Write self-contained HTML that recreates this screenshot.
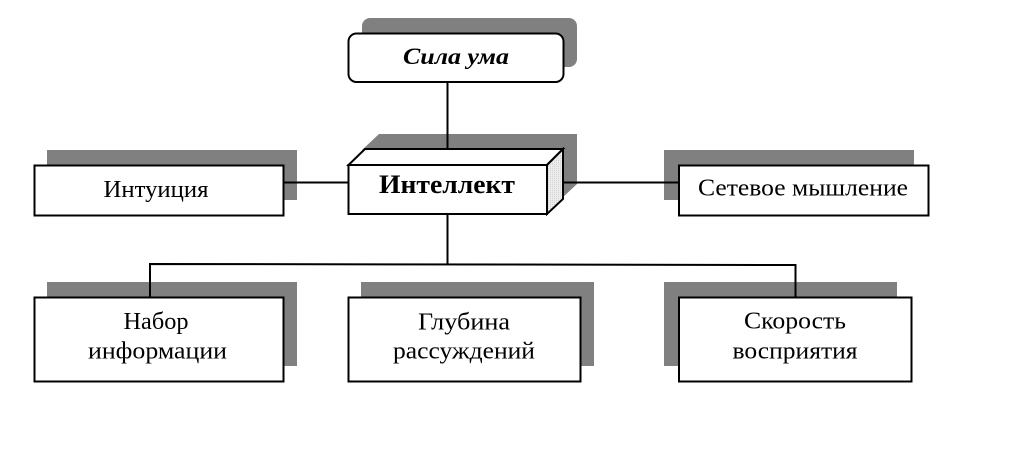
<!DOCTYPE html>
<html>
<head>
<meta charset="utf-8">
<style>
html,body{margin:0;padding:0;background:#fff;}
svg{display:block;}
text{font-family:"Liberation Serif","DejaVu Serif",serif;fill:#000;}
</style>
</head>
<body>
<svg width="1024" height="449" viewBox="0 0 1024 449" xmlns="http://www.w3.org/2000/svg">
<defs>
<pattern id="dots" width="2" height="2" patternUnits="userSpaceOnUse">
<rect width="2" height="2" fill="#ececec"/>
<rect width="1" height="1" fill="#d4d4d4"/>
</pattern>
</defs>
<rect x="0" y="0" width="1024" height="449" fill="#fff"/>

<!-- shadows -->
<rect x="362" y="18" width="215" height="49" rx="8" ry="8" fill="#808080"/>
<polygon points="362,150 379,134 577,134 577,184 561,199 362,199" fill="#808080"/>
<rect x="47" y="150" width="250" height="50" fill="#808080"/>
<rect x="664" y="150" width="250" height="50" fill="#808080"/>
<rect x="47" y="282" width="250" height="84" fill="#808080"/>
<rect x="361" y="282" width="233" height="84" fill="#808080"/>
<rect x="664" y="282" width="233" height="84" fill="#808080"/>

<!-- connectors -->
<g stroke="#000" stroke-width="2" fill="none">
<line x1="447.5" y1="82" x2="447.5" y2="150"/>
<line x1="283" y1="182.5" x2="349" y2="182.5"/>
<line x1="563" y1="182.5" x2="679" y2="182.5"/>
<line x1="447.5" y1="214" x2="447.5" y2="264"/>
<polyline points="150,297 150,264 795.5,265 795.5,297"/>
</g>

<!-- Сила ума -->
<rect x="348.5" y="33.5" width="215" height="48.5" rx="8" ry="8" fill="#fff" stroke="#000" stroke-width="2"/>
<text x="456" y="64" font-size="23.5" font-weight="bold" font-style="italic" text-anchor="middle" textLength="106" lengthAdjust="spacingAndGlyphs">Сила ума</text>

<!-- Интеллект 3D box -->
<polygon points="348.5,165 365,149 563,149 547,165" fill="#fff" stroke="#000" stroke-width="2" stroke-linejoin="miter"/>
<polygon points="547,165 563,149 563,199 547,214" fill="url(#dots)" stroke="#000" stroke-width="2"/>
<rect x="348.5" y="165" width="198.5" height="49" fill="#fff" stroke="#000" stroke-width="2"/>
<text x="447" y="193" font-size="26" font-weight="bold" text-anchor="middle" textLength="136" lengthAdjust="spacingAndGlyphs">Интеллект</text>

<!-- Интуиция -->
<rect x="34.5" y="165.5" width="249" height="50" fill="#fff" stroke="#000" stroke-width="2"/>
<text x="156" y="197" font-size="24" text-anchor="middle" textLength="105" lengthAdjust="spacingAndGlyphs">Интуиция</text>

<!-- Сетевое мышление -->
<rect x="679" y="165.5" width="249.5" height="50" fill="#fff" stroke="#000" stroke-width="2"/>
<text x="803" y="195.5" font-size="24" text-anchor="middle" textLength="210" lengthAdjust="spacingAndGlyphs">Сетевое мышление</text>

<!-- Набор информации -->
<rect x="34.5" y="297.5" width="249" height="84" fill="#fff" stroke="#000" stroke-width="2"/>
<text x="156" y="329" font-size="24" text-anchor="middle" textLength="65" lengthAdjust="spacingAndGlyphs">Набор</text>
<text x="157.5" y="358.5" font-size="24" text-anchor="middle" textLength="139" lengthAdjust="spacingAndGlyphs">информации</text>

<!-- Глубина рассуждений -->
<rect x="348.5" y="297.5" width="232" height="84" fill="#fff" stroke="#000" stroke-width="2"/>
<text x="464" y="329.5" font-size="24" text-anchor="middle" textLength="92" lengthAdjust="spacingAndGlyphs">Глубина</text>
<text x="464" y="358.5" font-size="24" text-anchor="middle" textLength="142" lengthAdjust="spacingAndGlyphs">рассуждений</text>

<!-- Скорость восприятия -->
<rect x="679" y="297.5" width="232.5" height="84" fill="#fff" stroke="#000" stroke-width="2"/>
<text x="795" y="328.5" font-size="24" text-anchor="middle" textLength="102" lengthAdjust="spacingAndGlyphs">Скорость</text>
<text x="795" y="358.5" font-size="24" text-anchor="middle" textLength="125" lengthAdjust="spacingAndGlyphs">восприятия</text>
</svg>
</body>
</html>
